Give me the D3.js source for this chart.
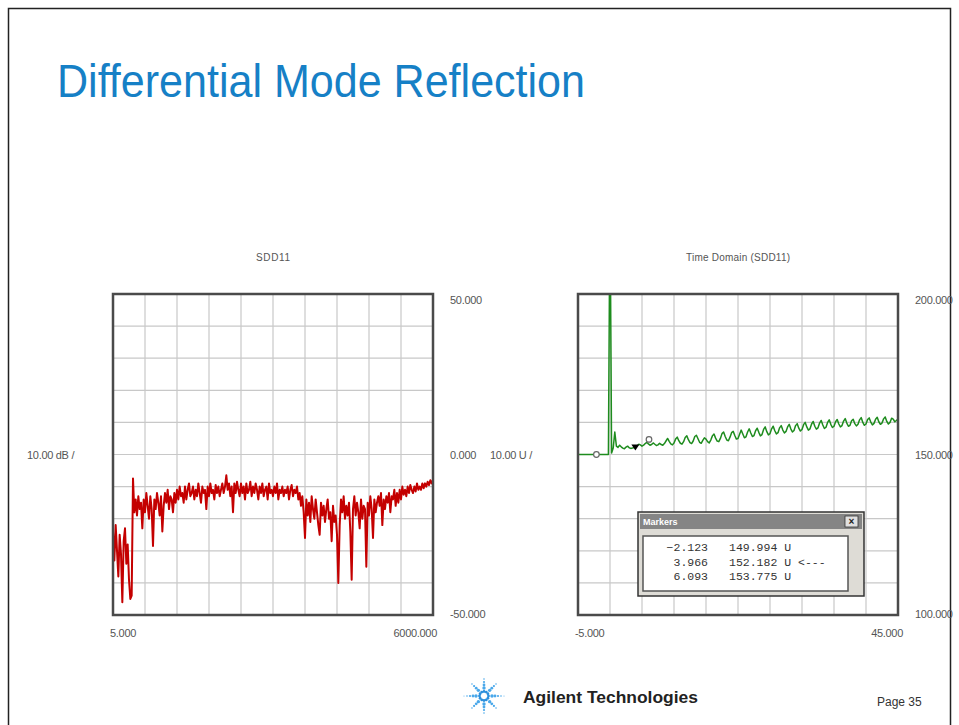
<!DOCTYPE html>
<html>
<head>
<meta charset="utf-8">
<script src="https://cdn.jsdelivr.net/npm/d3@7"></script>
<style>
  body { margin: 0; background: #fff; }
  text { font-family: "Liberation Sans", Arial, sans-serif; }
</style>
</head>
<body>
<svg id="slide" width="959" height="725"></svg>
<script>
/*
 * Slide: Differential Mode Reflection
 *   left  - SDD11 magnitude (dB) over the frequency sweep
 *   right - time domain of SDD11 with a marker table
 */

//sweep limits and axis end labels
var freqRange = [5, 6000];
var dbRange = [-50, 50];
var timeRange = [-5, 45];
var unitRange = [100, 200];

var leftXLabels = ["5.000", "6000.000"];
var leftYLabels = ["50.000", "0.000", "-50.000"];
var rightXLabels = ["-5.000", "45.000"];
var rightYLabels = ["200.000", "150.000", "100.000"];

//SDD11 in dB, 241 sweep points from 5 to 6000 MHz
var sdd11 = [
  -24, -33, -22, -30, -38, -25, -31, -46, -27, -23,
  -34, -28, -39, -45, -44, -7.5, -18, -14, -19, -13,
  -17, -15, -23, -14, -18, -12, -16, -20, -13, -17,
  -28.5, -14, -17, -12, -15, -19, -13, -24, -16, -12,
  -15, -11, -17, -13, -14, -18, -12, -15, -11, -14,
  -10, -13, -12, -15, -10, -14, -11, -9, -13, -12,
  -10, -14, -11, -13, -9, -12, -15, -10, -12, -11,
  -17, -10, -13, -9, -12, -11, -14, -9.5, -12, -10,
  -13, -11, -9, -12, -10, -6.5, -11, -9, -13, -10,
  -18, -9, -12, -8.5, -11, -13, -9, -12, -10, -14,
  -9, -12, -11, -8.5, -13, -10, -12, -9, -11, -14,
  -10, -12, -9, -13, -11, -10, -14, -9, -12, -11,
  -13, -10, -12, -9, -14, -11, -12, -10, -13, -11,
  -12, -10, -14, -11, -9.5, -13, -11, -12, -10, -14,
  -12, -16, -13, -18, -26, -14, -19, -15, -21, -13,
  -17, -20, -14, -18, -22, -25, -15, -19, -16, -21,
  -17, -14, -20, -18, -27, -16, -21, -19, -25, -40,
  -22, -14, -18, -13, -20, -16, -19, -15, -24, -39,
  -17, -13, -19, -15, -18, -23, -14, -20, -16, -17,
  -35, -15, -19, -13, -17, -26, -14, -18, -15, -13,
  -16, -12, -22, -14, -17, -13, -15, -12, -18, -13,
  -14, -11, -16, -12, -15, -11, -14, -10, -12.5, -11,
  -13, -10, -12, -9.5, -11, -12, -10, -11.5, -9, -11,
  -10, -11, -9, -10.5, -9, -10, -8.5, -9.5, -8, -9,
  -8
];

//time domain response in U, 201 points from -5 to 45
var tdr = [
  150, 150, 150, 150, 150, 150, 150, 150, 150, 150,
  150, 150, 150, 150, 150, 150, 150, 150, 150, 150,
  230, 150.5, 152, 157,
  152.6, 152.2, 152.9, 152.4, 152.0, 151.8, 152.3, 152.6, 152.1, 151.9, 152.0, 152.2,
  152.3, 152.8, 153.2, 153.0, 152.6, 152.9, 153.4, 153.8, 153.3, 152.9, 153.1, 153.6,
  153.2, 152.8, 153.0, 153.5, 153.1, 152.9, 153.4, 154.2, 155.0, 154.1, 153.3, 153.0,
  153.6, 154.8, 155.4, 154.3, 153.5, 153.2, 154.0, 155.3, 155.8, 154.6, 153.7, 153.4,
  154.2, 155.6, 156.0, 154.9, 153.8, 153.5, 154.4, 155.2, 154.8, 154.0, 153.6, 154.5,
  155.8, 156.4, 155.1, 154.2, 154.0, 155.0, 156.5, 157.0, 155.6, 154.5, 154.3, 155.4,
  156.8, 157.2, 155.9, 154.8, 155.0, 156.3, 157.6, 156.4, 155.2, 155.5, 157.0, 158.0,
  156.7, 155.6, 155.9, 157.4, 158.2, 156.9, 155.8, 156.2, 157.8, 158.6, 157.1, 156.1,
  156.5, 158.0, 158.8, 157.4, 156.4, 156.8, 158.3, 159.0, 157.6, 156.7, 157.2, 158.6,
  159.4, 158.0, 157.0, 157.5, 159.0, 159.6, 158.2, 157.3, 157.8, 159.3, 160.0, 158.6,
  157.6, 158.0, 159.5, 160.3, 158.8, 157.9, 158.3, 159.8, 160.6, 159.2, 158.1, 158.5,
  160.0, 160.8, 159.4, 158.4, 158.8, 160.2, 160.9, 159.5, 158.6, 159.0, 160.4, 161.2,
  159.8, 158.8, 159.1, 160.5, 161.0, 159.6, 158.9, 159.4, 160.8, 161.5, 160.0, 159.1,
  159.5, 160.9, 161.4, 160.1, 159.2, 159.7, 161.0, 161.6, 160.2, 159.4, 159.8, 161.1,
  161.7, 160.3, 159.5, 160.0, 161.3, 161.0, 160.2, 160.6, 160.9
];

//marker table
var markerTimes = [-2.123, 3.966, 6.093];
var markerValues = [149.994, 152.182, 153.775];
var activeMarker = 1;

var svg = d3.select("#slide");

//slide frame
svg.append("rect")
   .attr("x", 8.5).attr("y", 8.5)
   .attr("width", 942).attr("height", 740)
   .style("fill", "none")
   .style("stroke", "#222")
   .style("stroke-width", 1.5);

//slide title
svg.append("text")
   .attr("x", 57).attr("y", 97)
   .attr("textLength", 528)
   .attr("lengthAdjust", "spacingAndGlyphs")
   .style("font-size", "47px")
   .style("fill", "#1680c6")
   .text("Differential Mode Reflection");

/*
 * Plot boxes
 */
var plotTop = 294, plotBottom = 615;

var xL = d3.scaleLinear().domain(freqRange).range([113, 433]);
var yL = d3.scaleLinear().domain(dbRange).range([plotBottom, plotTop]);
var xR = d3.scaleLinear().domain(timeRange).range([578, 898]);
var yR = d3.scaleLinear().domain(unitRange).range([plotBottom, plotTop]);

function divisions(dom) {
  return d3.range(11).map(function(k){ return dom[0] + k * (dom[1] - dom[0]) / 10; });
}

function drawBox(id, x, y, title, titleWidth) {
  var g = svg.append("g").attr("id", id);
  var x0 = x.range()[0], x1 = x.range()[1];

  g.append("clipPath").attr("id", id + "-clip")
   .append("rect")
   .attr("x", x0).attr("y", plotTop)
   .attr("width", x1 - x0).attr("height", plotBottom - plotTop);

  g.selectAll(".vgrid").data(divisions(x.domain()).slice(1, 10))
   .enter().append("line")
   .attr("x1", function(d){ return x(d); }).attr("x2", function(d){ return x(d); })
   .attr("y1", plotTop).attr("y2", plotBottom)
   .style("stroke", "#c8c8c8").style("stroke-width", 1.2);

  g.selectAll(".hgrid").data(divisions(y.domain()).slice(1, 10))
   .enter().append("line")
   .attr("y1", function(d){ return y(d); }).attr("y2", function(d){ return y(d); })
   .attr("x1", x0).attr("x2", x1)
   .style("stroke", "#c8c8c8").style("stroke-width", 1.2);

  g.append("text")
   .attr("x", (x0 + x1) / 2 - titleWidth / 2).attr("y", 261)
   .attr("textLength", titleWidth)
   .attr("lengthAdjust", "spacing")
   .style("font-size", "10px")
   .style("fill", "#555")
   .text(title);

  return g;
}

function drawFrame(g, x) {
  var x0 = x.range()[0], x1 = x.range()[1];
  g.append("rect")
   .attr("x", x0).attr("y", plotTop)
   .attr("width", x1 - x0).attr("height", plotBottom - plotTop)
   .style("fill", "none")
   .style("stroke", "#4a4a4a")
   .style("stroke-width", 2.5);
}

function label(x, y, txt, anchor) {
  svg.append("text")
     .attr("x", x).attr("y", y)
     .attr("text-anchor", anchor || "start")
     .style("font-size", "11px")
     .style("letter-spacing", "-0.3px")
     .style("fill", "#555")
     .text(txt);
}

/*
 * Left plot: SDD11
 */
var gL = drawBox("left", xL, yL, "SDD11", 34);
var sweepL = d3.scaleLinear().domain([0, sdd11.length - 1]).range(freqRange);

gL.append("path")
  .datum(sdd11)
  .attr("clip-path", "url(#left-clip)")
  .attr("d", d3.line()
      .x(function(d, i){ return xL(sweepL(i)); })
      .y(function(d){ return yL(d); }))
  .style("fill", "none")
  .style("stroke", "#c40000")
  .style("stroke-width", 2)
  .style("stroke-linejoin", "round");

drawFrame(gL, xL);

label(xL(freqRange[0]) - 3, 637, leftXLabels[0]);
label(xL(freqRange[1]) + 4, 637, leftXLabels[1], "end");
label(450, yL(50) + 10, leftYLabels[0]);
label(450, yL(0) + 4, leftYLabels[1]);
label(450, yL(-50) + 3, leftYLabels[2]);
label(27, yL(0) + 4, "10.00 dB /");

/*
 * Right plot: Time Domain (SDD11)
 */
var gR = drawBox("right", xR, yR, "Time Domain (SDD11)", 104);
var sweepR = d3.scaleLinear().domain([0, tdr.length - 1]).range(timeRange);

gR.append("path")
  .datum(tdr)
  .attr("clip-path", "url(#right-clip)")
  .attr("d", d3.line()
      .x(function(d, i){ return xR(sweepR(i)); })
      .y(function(d){ return yR(d); }))
  .style("fill", "none")
  .style("stroke", "#1e8c1e")
  .style("stroke-width", 1.5)
  .style("stroke-linejoin", "round");

//markers on the trace
markerTimes.forEach(function(t, i){
  var mx = xR(t), my = yR(markerValues[i]);
  if (i === activeMarker) {
    gR.append("path")
      .attr("d", "M" + (mx - 4) + "," + (my - 3) + "L" + (mx + 4) + "," + (my - 3) + "L" + mx + "," + (my + 3) + "Z")
      .style("fill", "#000");
  } else {
    gR.append("circle")
      .attr("cx", mx).attr("cy", my - (i === 2 ? 3 : 0)).attr("r", 2.8)
      .style("fill", "#fff")
      .style("stroke", "#666")
      .style("stroke-width", 1.2);
  }
});

drawFrame(gR, xR);

label(xR(timeRange[0]) - 3, 637, rightXLabels[0]);
label(xR(timeRange[1]) + 5, 637, rightXLabels[1], "end");
label(915, yR(200) + 10, rightYLabels[0]);
label(915, yR(150) + 4, rightYLabels[1]);
label(915, yR(100) + 3, rightYLabels[2]);
label(490, yR(150) + 4, "10.00 U /");

/*
 * Markers window
 */
var win = svg.append("g").attr("id", "markers");

win.append("rect").attr("x", 638).attr("y", 512).attr("width", 226).attr("height", 84)
   .style("fill", "#dedcd6").style("stroke", "#333").style("stroke-width", 1.5);
win.append("rect").attr("x", 640).attr("y", 514).attr("width", 222).attr("height", 15)
   .style("fill", "#858585");
win.append("text").attr("x", 643).attr("y", 525)
   .style("font-size", "9px").style("font-weight", "bold").style("fill", "#fff")
   .text("Markers");
win.append("rect").attr("x", 845).attr("y", 516).attr("width", 13).attr("height", 11)
   .style("fill", "#e0e0e0").style("stroke", "#333").style("stroke-width", 0.8);
win.append("text").attr("x", 851.5).attr("y", 525).attr("text-anchor", "middle")
   .style("font-size", "10px").style("font-weight", "bold").style("fill", "#222")
   .text("×");
win.append("rect").attr("x", 643).attr("y", 536).attr("width", 205).attr("height", 55)
   .style("fill", "#fff").style("stroke", "#555").style("stroke-width", 1.5);

var fmt = d3.format(".3f");
markerTimes.forEach(function(t, i){
  var ry = 551 + i * 14.5;
  win.append("text").attr("x", 708).attr("y", ry).attr("text-anchor", "end")
     .style("font-family", "'Liberation Mono', monospace").style("font-size", "11.5px").style("fill", "#333")
     .text(fmt(t));
  win.append("text").attr("x", 729).attr("y", ry)
     .style("font-family", "'Liberation Mono', monospace").style("font-size", "11.5px").style("fill", "#333")
     .text(fmt(markerValues[i]) + " U" + (i === activeMarker ? " <---" : ""));
});

/*
 * Footer: logo and page number
 */
var logo = svg.append("g").attr("transform", "translate(484,696)");
var rays = d3.range(8).map(function(k){ return k * Math.PI / 4; });
rays.forEach(function(a){
  var reach = (Math.abs(Math.sin(a)) < 0.1) ? [8, 11, 14, 17, 20] : [8, 11, 14, 17];
  reach.forEach(function(r, j){
    logo.append("circle")
        .attr("cx", r * Math.cos(a)).attr("cy", r * Math.sin(a))
        .attr("r", 1.7 - j * 0.3)
        .style("fill", "#4aa8ea");
  });
});
d3.range(12).forEach(function(k){
  var a = k * Math.PI / 6;
  logo.append("circle")
      .attr("cx", 4.5 * Math.cos(a)).attr("cy", 4.5 * Math.sin(a))
      .attr("r", 1.4)
      .style("fill", "#2b8fdc");
});

svg.append("text")
   .attr("x", 523).attr("y", 703)
   .attr("textLength", 175)
   .attr("lengthAdjust", "spacingAndGlyphs")
   .style("font-size", "17px")
   .style("font-weight", "bold")
   .style("fill", "#222")
   .text("Agilent Technologies");

svg.append("text")
   .attr("x", 877).attr("y", 706)
   .style("font-size", "12px")
   .style("fill", "#333")
   .text("Page 35");
</script>
</body>
</html>
